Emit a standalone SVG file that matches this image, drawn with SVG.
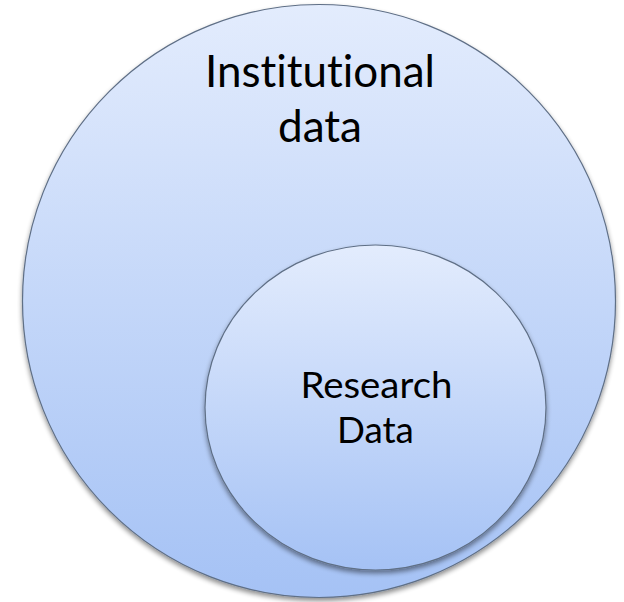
<svg xmlns="http://www.w3.org/2000/svg" width="624" height="602" viewBox="0 0 624 602">
<defs>
<linearGradient id="g" x1="0" y1="0" x2="0" y2="1">
<stop offset="0" stop-color="#e3ecfd"/>
<stop offset="1" stop-color="#a5c2f5"/>
</linearGradient>
<filter id="sh" x="-10%" y="-10%" width="120%" height="125%">
<feGaussianBlur in="SourceAlpha" stdDeviation="2.5"/>
<feOffset dx="0" dy="3" result="b"/>
<feComponentTransfer><feFuncA type="linear" slope="0.45"/></feComponentTransfer>
<feMerge><feMergeNode/><feMergeNode in="SourceGraphic"/></feMerge>
</filter>
<style>
.c{fill:url(#g);stroke:#5f6f86;stroke-width:1.2;filter:url(#sh)}
.t{font-family:Lato,"Open Sans","Liberation Sans",sans-serif;fill:#000;text-anchor:middle;font-variant-ligatures:none;font-feature-settings:"liga" 0,"clig" 0}
</style>
</defs>
<rect width="624" height="602" fill="#fff"/>
<g id="institutional">
<circle class="c" cx="319" cy="301" r="296.5"/>
<text class="t" x="320" y="86.7" font-size="44" textLength="230" lengthAdjust="spacingAndGlyphs">Institutional</text>
<text class="t" x="320" y="141.7" font-size="44" textLength="84" lengthAdjust="spacingAndGlyphs">data</text>
</g>
<g id="research">
<ellipse class="c" cx="375.5" cy="407.5" rx="170.5" ry="162.5"/>
<text class="t" x="376.4" y="398.3" font-size="37" textLength="152" lengthAdjust="spacingAndGlyphs">Research</text>
<text class="t" x="375.4" y="443.3" font-size="37" textLength="77" lengthAdjust="spacingAndGlyphs">Data</text>
</g>
<g id="connectors"/>
</svg>
